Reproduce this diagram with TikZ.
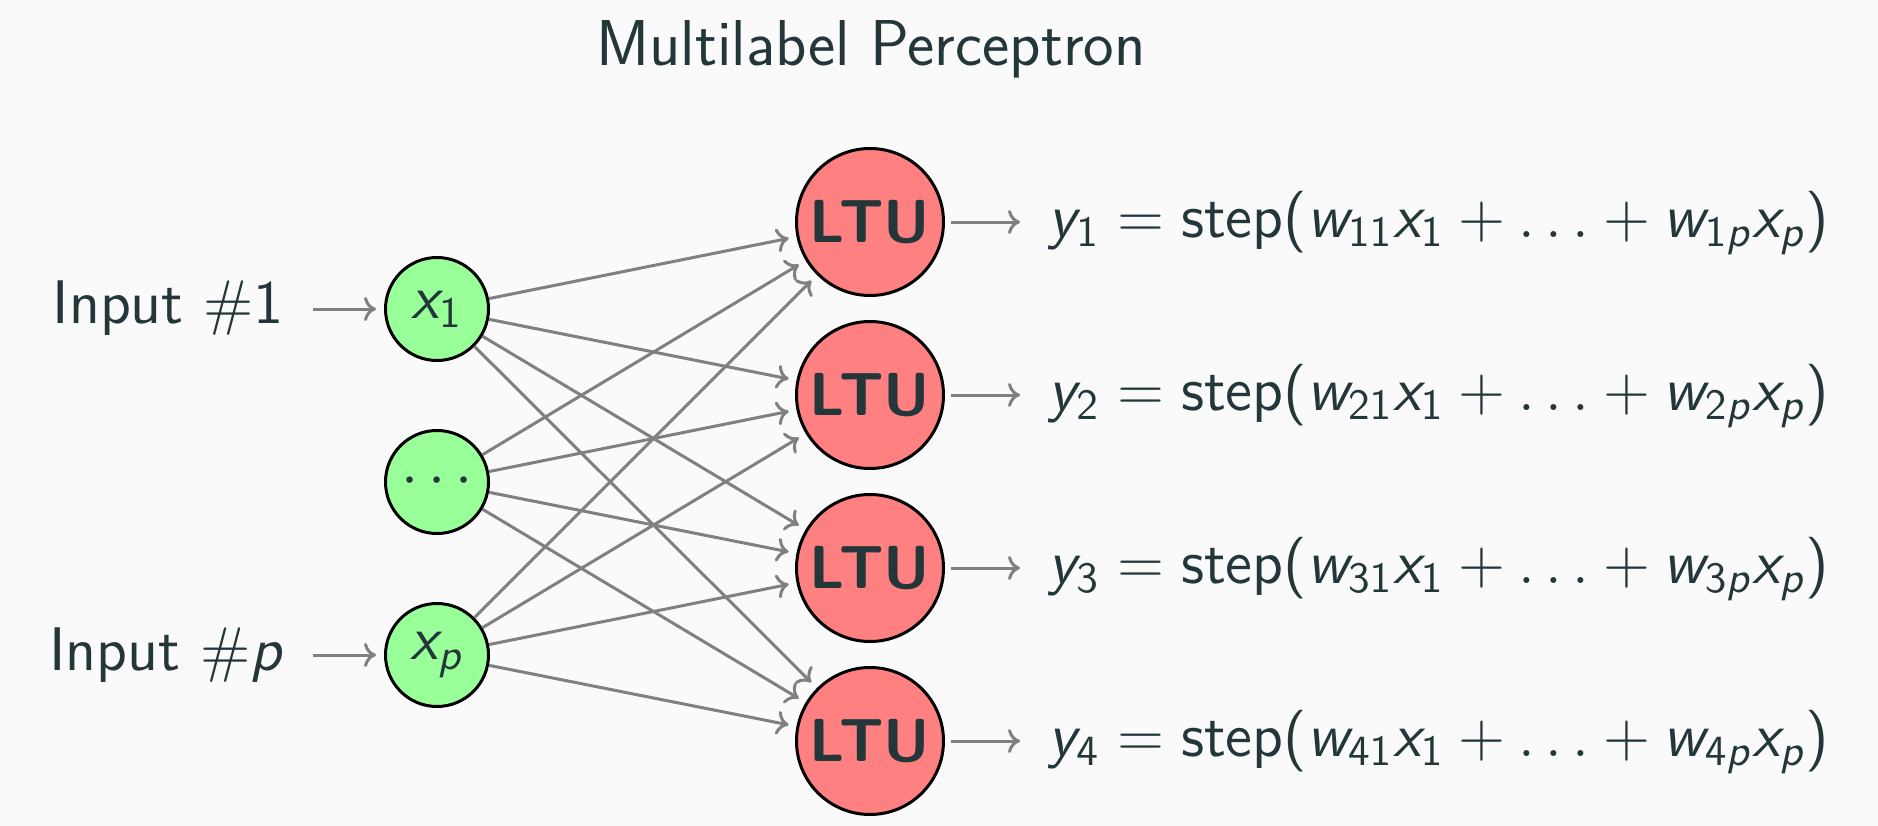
\RequirePackage{fix-cm}
\documentclass[tikz,border=0pt]{standalone}
\usetikzlibrary{arrows.meta}
\DeclareSymbolFont{sfit}{OT1}{cmss}{m}{sl}
\SetSymbolFont{operators}{normal}{OT1}{cmss}{m}{n}
\DeclareMathSymbol{x}{\mathalpha}{sfit}{`x}
\DeclareMathSymbol{y}{\mathalpha}{sfit}{`y}
\DeclareMathSymbol{w}{\mathalpha}{sfit}{`w}
\DeclareMathSymbol{p}{\mathalpha}{sfit}{`p}
\definecolor{mtext}{HTML}{23373B}
\definecolor{bgc}{HTML}{FAFAFA}
\definecolor{ingreen}{HTML}{99FF99}
\definecolor{ltured}{HTML}{FF8080}
\begin{document}
\begin{tikzpicture}[x=0.25pt,y=-0.25pt,
  basefont/.style={font=\sffamily\fontsize{15.4}{18}\selectfont},
  every node/.style={text=mtext, basefont},
  innode/.style={circle, draw=black, line width=0.75pt, fill=ingreen, minimum size=25.75pt, inner sep=0pt},
  ltunode/.style={circle, draw=black, line width=0.75pt, fill=ltured, minimum size=36.75pt, inner sep=0pt, font=\sffamily\fontsize{15.2}{18}\selectfont\bfseries},
  arr/.style={draw=gray, line width=0.75pt, -{Computer Modern Rightarrow[length=3pt,width=6pt]}},
  lbl/.style={anchor=base east, inner xsep=7pt},
  outlbl/.style={anchor=base west, inner xsep=7pt}
]
\fill[bgc] (0,0) rectangle (1878,826);
\useasboundingbox (0,0) rectangle (1878,826);

\node[anchor=base, font=\sffamily\fontsize{16.2}{19}\selectfont] (title) at (871,65) {Multilabel Perceptron};

\node[innode] (x1) at (437,309) {$x_1$};
\node[innode] (xd) at (437,482) {$\cdots$};
\node[innode] (xp) at (437,655) {$x_p$};

\node[ltunode] (l1) at (870,222) {LTU};
\node[ltunode] (l2) at (870,395) {LTU};
\node[ltunode] (l3) at (870,568) {LTU};
\node[ltunode] (l4) at (870,741) {LTU};

\node[lbl] (in1) at (313,323) {Input $\#1$};
\node[lbl] (inp) at (313,670) {Input $\#p$};

\draw[arr, shorten >=2pt] (in1.east |- x1) -- (x1);
\draw[arr, shorten >=2pt] (inp.east |- xp) -- (xp);

\foreach \i in {x1,xd,xp}
  \foreach \j in {l1,l2,l3,l4}
    \draw[arr, shorten >=2pt] (\i) -- (\j);

\node[outlbl] (o1) at (1020,237.5) {$y_1 = \mbox{step}(w_{11}x_1 + \ldots + w_{1p}x_p)$};
\node[outlbl] (o2) at (1020,410.5) {$y_2 = \mbox{step}(w_{21}x_1 + \ldots + w_{2p}x_p)$};
\node[outlbl] (o3) at (1020,583.5) {$y_3 = \mbox{step}(w_{31}x_1 + \ldots + w_{3p}x_p)$};
\node[outlbl] (o4) at (1020,756.5) {$y_4 = \mbox{step}(w_{41}x_1 + \ldots + w_{4p}x_p)$};

\draw[arr, shorten <=1.5pt] (l1) -- (l1 -| o1.west);
\draw[arr, shorten <=1.5pt] (l2) -- (l2 -| o2.west);
\draw[arr, shorten <=1.5pt] (l3) -- (l3 -| o3.west);
\draw[arr, shorten <=1.5pt] (l4) -- (l4 -| o4.west);
\end{tikzpicture}
\end{document}
